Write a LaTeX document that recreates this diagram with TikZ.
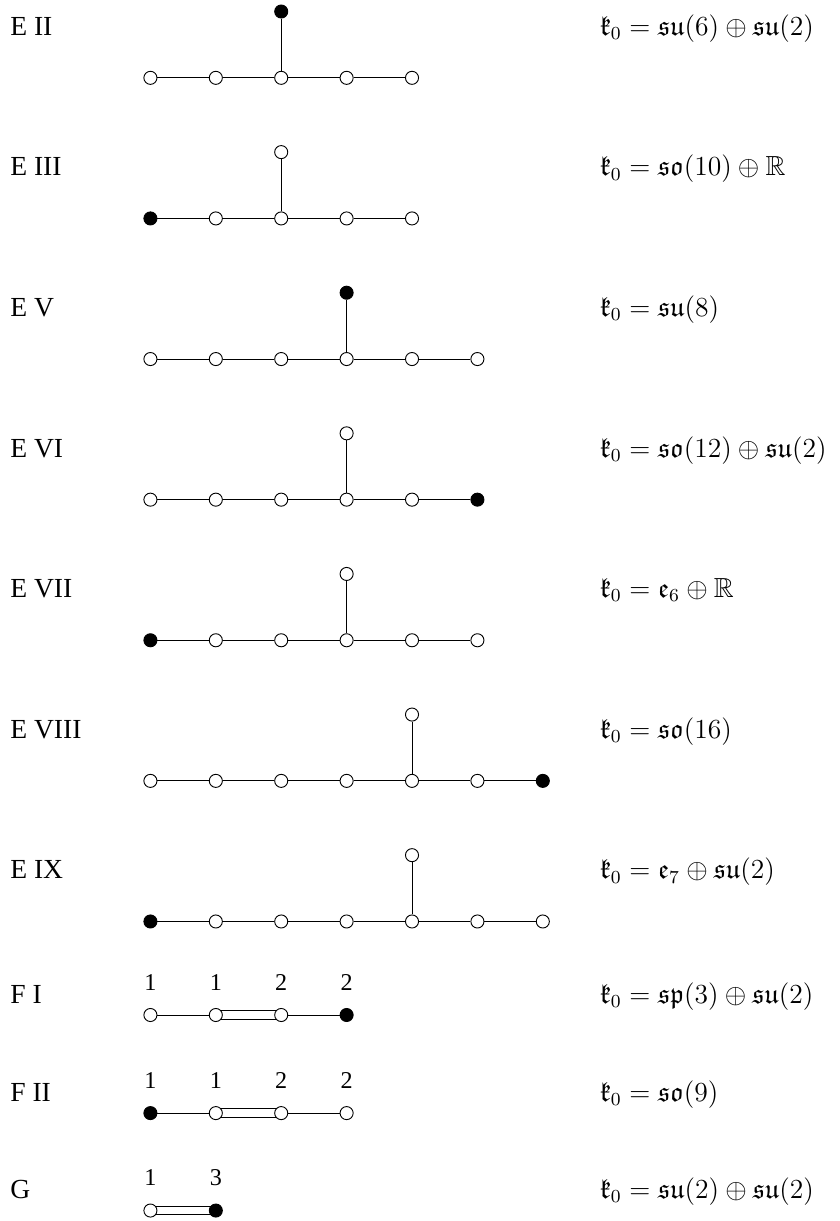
\documentclass[tikz,border=0pt]{standalone}
\usepackage{amssymb}
\usepackage{fontspec}
\setmainfont{Liberation Serif}
\usetikzlibrary{positioning,backgrounds}
\tikzset{wnode/.style={circle,draw,fill=white,inner sep=0pt,minimum size=2mm},
	bnode/.style={wnode,fill=black},
	lbl/.style={anchor=base west,inner sep=0pt,font=\fontsize{12}{14.4}\selectfont},
	mult/.style={anchor=base,inner sep=0pt,font=\fontsize{10.5}{12.6}\selectfont},
	dbl/.style={double,double distance=3.4pt}}

\begin{document}
\begin{tikzpicture}
	\useasboundingbox (0,0) rectangle (12.83,-18.67);
	
	% E II
	\node[lbl] (t1) at (0.15,-0.54) {E II};
	\foreach \s [count=\i] in {wnode,wnode,wnode,wnode,wnode}
		\node[\s] (a\i) at (1.3+\i,-1.19) {};
	\node[bnode,above=0.8cm of a3] (a6) {};
	\foreach \i [count=\j from 2] in {1,...,4} \draw (a\i) -- (a\j);
	\draw (a3) -- (a6);
	\node[lbl] (k1) at (9.17,-0.54) {$\mathfrak{k}_0=\mathfrak{su}(6)\oplus\mathfrak{su}(2)$};
	
	% E III
	\node[lbl] (t2) at (0.15,-2.69) {E III};
	\foreach \s [count=\i] in {bnode,wnode,wnode,wnode,wnode}
		\node[\s] (b\i) at (1.3+\i,-3.34) {};
	\node[wnode,above=0.8cm of b3] (b6) {};
	\foreach \i [count=\j from 2] in {1,...,4} \draw (b\i) -- (b\j);
	\draw (b3) -- (b6);
	\node[lbl] (k2) at (9.17,-2.69) {$\mathfrak{k}_0=\mathfrak{so}(10)\oplus\mathbb{R}$};
	
	% E V
	\node[lbl] (t3) at (0.15,-4.84) {E V};
	\foreach \s [count=\i] in {wnode,wnode,wnode,wnode,wnode,wnode}
		\node[\s] (c\i) at (1.3+\i,-5.49) {};
	\node[bnode,above=0.8cm of c4] (c7) {};
	\foreach \i [count=\j from 2] in {1,...,5} \draw (c\i) -- (c\j);
	\draw (c4) -- (c7);
	\node[lbl] (k3) at (9.17,-4.84) {$\mathfrak{k}_0=\mathfrak{su}(8)$};
	
	% E VI
	\node[lbl] (t4) at (0.15,-6.99) {E VI};
	\foreach \s [count=\i] in {wnode,wnode,wnode,wnode,wnode,bnode}
		\node[\s] (d\i) at (1.3+\i,-7.64) {};
	\node[wnode,above=0.8cm of d4] (d7) {};
	\foreach \i [count=\j from 2] in {1,...,5} \draw (d\i) -- (d\j);
	\draw (d4) -- (d7);
	\node[lbl] (k4) at (9.17,-6.99) {$\mathfrak{k}_0=\mathfrak{so}(12)\oplus\mathfrak{su}(2)$};
	
	% E VII
	\node[lbl] (t5) at (0.15,-9.14) {E VII};
	\foreach \s [count=\i] in {bnode,wnode,wnode,wnode,wnode,wnode}
		\node[\s] (e\i) at (1.3+\i,-9.79) {};
	\node[wnode,above=0.8cm of e4] (e7) {};
	\foreach \i [count=\j from 2] in {1,...,5} \draw (e\i) -- (e\j);
	\draw (e4) -- (e7);
	\node[lbl] (k5) at (9.17,-9.14) {$\mathfrak{k}_0=\mathfrak{e}_6\oplus\mathbb{R}$};
	
	% E VIII
	\node[lbl] (t6) at (0.15,-11.29) {E VIII};
	\foreach \s [count=\i] in {wnode,wnode,wnode,wnode,wnode,wnode,bnode}
		\node[\s] (f\i) at (1.3+\i,-11.94) {};
	\node[wnode,above=0.8cm of f5] (f8) {};
	\foreach \i [count=\j from 2] in {1,...,6} \draw (f\i) -- (f\j);
	\draw (f5) -- (f8);
	\node[lbl] (k6) at (9.17,-11.29) {$\mathfrak{k}_0=\mathfrak{so}(16)$};
	
	% E IX
	\node[lbl] (t7) at (0.15,-13.44) {E IX};
	\foreach \s [count=\i] in {bnode,wnode,wnode,wnode,wnode,wnode,wnode}
		\node[\s] (g\i) at (1.3+\i,-14.09) {};
	\node[wnode,above=0.8cm of g5] (g8) {};
	\foreach \i [count=\j from 2] in {1,...,6} \draw (g\i) -- (g\j);
	\draw (g5) -- (g8);
	\node[lbl] (k7) at (9.17,-13.44) {$\mathfrak{k}_0=\mathfrak{e}_7\oplus\mathfrak{su}(2)$};
	
	% F I
	\node[lbl] (t8) at (0.15,-15.34) {F I};
	\foreach \s/\m [count=\i] in {wnode/1,wnode/1,wnode/2,bnode/2} {
		\node[\s] (h\i) at (1.3+\i,-15.52) {};
		\node[mult] (hm\i) at (1.3+\i,-15.14) {\m};
	}
	\draw (h1) -- (h2) (h3) -- (h4);
	\begin{scope}[on background layer]
		\draw[dbl] (h2.center) -- (h3.center);
	\end{scope}
	\node[lbl] (k8) at (9.17,-15.34) {$\mathfrak{k}_0=\mathfrak{sp}(3)\oplus\mathfrak{su}(2)$};
	
	% F II
	\node[lbl] (t9) at (0.15,-16.84) {F II};
	\foreach \s/\m [count=\i] in {bnode/1,wnode/1,wnode/2,wnode/2} {
		\node[\s] (p\i) at (1.3+\i,-17.02) {};
		\node[mult] (pm\i) at (1.3+\i,-16.64) {\m};
	}
	\draw (p1) -- (p2) (p3) -- (p4);
	\begin{scope}[on background layer]
		\draw[dbl] (p2.center) -- (p3.center);
	\end{scope}
	\node[lbl] (k9) at (9.17,-16.84) {$\mathfrak{k}_0=\mathfrak{so}(9)$};
	
	% G
	\node[lbl] (t10) at (0.15,-18.33) {G};
	\foreach \s/\m [count=\i] in {wnode/1,bnode/3} {
		\node[\s] (q\i) at (1.3+\i,-18.51) {};
		\node[mult] (qm\i) at (1.3+\i,-18.13) {\m};
	}
	\begin{scope}[on background layer]
		\draw[dbl] (q1.center) -- (q2.center);
	\end{scope}
	\node[lbl] (k10) at (9.17,-18.33) {$\mathfrak{k}_0=\mathfrak{su}(2)\oplus\mathfrak{su}(2)$};
\end{tikzpicture}
\end{document}
